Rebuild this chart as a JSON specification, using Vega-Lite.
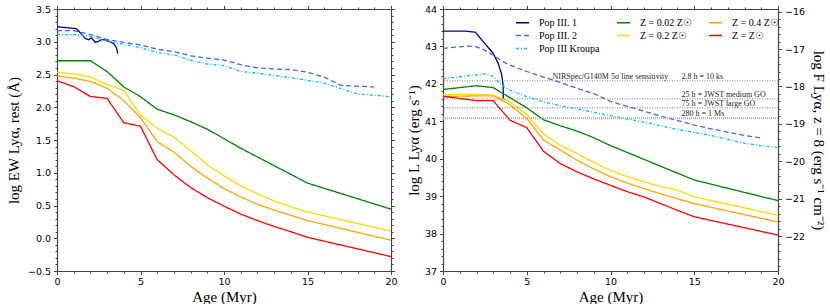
{
  "$schema": "https://vega.github.io/schema/vega-lite/v6.json",
  "padding": {"left": 6, "top": 4, "right": 0, "bottom": 0},
  "background": "white",
  "spacing": 8,
  "config": {
    "view": {"stroke": null},
    "axis": {"grid": false, "domainColor": "#444", "tickColor": "#444", "domainWidth": 1.2, "tickWidth": 1, "labelFont": "DejaVu Sans", "labelFontSize": 9.5, "labelColor": "black", "titleFont": "Liberation Serif", "titleFontSize": 15, "titleFontWeight": "normal", "titleColor": "black", "labelOverlap": false, "labelBound": false, "labelFlush": false},
    "line": {"strokeWidth": 1.3}
  },
  "datasets": {
    "ew": [
      {"s": "Pop III. 1", "t": 0, "v": 3.23}, {"s": "Pop III. 1", "t": 1.16, "v": 3.2}, {"s": "Pop III. 1", "t": 1.4, "v": 3.135}, {"s": "Pop III. 1", "t": 1.7, "v": 3.05}, {"s": "Pop III. 1", "t": 1.9, "v": 3.03}, {"s": "Pop III. 1", "t": 2.06, "v": 3.06}, {"s": "Pop III. 1", "t": 2.3, "v": 2.99}, {"s": "Pop III. 1", "t": 2.5, "v": 3.01}, {"s": "Pop III. 1", "t": 2.7, "v": 3.035}, {"s": "Pop III. 1", "t": 3.1, "v": 3.01}, {"s": "Pop III. 1", "t": 3.4, "v": 2.97}, {"s": "Pop III. 1", "t": 3.56, "v": 2.91}, {"s": "Pop III. 1", "t": 3.64, "v": 2.82},
      {"s": "Z = 0.02 Z☉", "t": 0, "v": 2.71}, {"s": "Z = 0.02 Z☉", "t": 2, "v": 2.71}, {"s": "Z = 0.02 Z☉", "t": 3, "v": 2.545}, {"s": "Z = 0.02 Z☉", "t": 4, "v": 2.31}, {"s": "Z = 0.02 Z☉", "t": 5, "v": 2.16}, {"s": "Z = 0.02 Z☉", "t": 6, "v": 1.97}, {"s": "Z = 0.02 Z☉", "t": 7, "v": 1.885}, {"s": "Z = 0.02 Z☉", "t": 8, "v": 1.78}, {"s": "Z = 0.02 Z☉", "t": 9, "v": 1.665}, {"s": "Z = 0.02 Z☉", "t": 10, "v": 1.52}, {"s": "Z = 0.02 Z☉", "t": 11, "v": 1.375}, {"s": "Z = 0.02 Z☉", "t": 15, "v": 0.842}, {"s": "Z = 0.02 Z☉", "t": 20, "v": 0.444},
      {"s": "Z = 0.4 Z☉", "t": 0, "v": 2.48}, {"s": "Z = 0.4 Z☉", "t": 1, "v": 2.445}, {"s": "Z = 0.4 Z☉", "t": 2, "v": 2.395}, {"s": "Z = 0.4 Z☉", "t": 3, "v": 2.29}, {"s": "Z = 0.4 Z☉", "t": 4, "v": 2.1}, {"s": "Z = 0.4 Z☉", "t": 5, "v": 1.84}, {"s": "Z = 0.4 Z☉", "t": 6, "v": 1.475}, {"s": "Z = 0.4 Z☉", "t": 7, "v": 1.316}, {"s": "Z = 0.4 Z☉", "t": 8, "v": 1.1}, {"s": "Z = 0.4 Z☉", "t": 9, "v": 0.92}, {"s": "Z = 0.4 Z☉", "t": 10, "v": 0.76}, {"s": "Z = 0.4 Z☉", "t": 11, "v": 0.63}, {"s": "Z = 0.4 Z☉", "t": 12, "v": 0.52}, {"s": "Z = 0.4 Z☉", "t": 13, "v": 0.43}, {"s": "Z = 0.4 Z☉", "t": 14, "v": 0.35}, {"s": "Z = 0.4 Z☉", "t": 15, "v": 0.27}, {"s": "Z = 0.4 Z☉", "t": 20, "v": -0.03},
      {"s": "Pop III. 2", "t": 0, "v": 3.17}, {"s": "Pop III. 2", "t": 1, "v": 3.17}, {"s": "Pop III. 2", "t": 2, "v": 3.11}, {"s": "Pop III. 2", "t": 3, "v": 3.035}, {"s": "Pop III. 2", "t": 4, "v": 2.99}, {"s": "Pop III. 2", "t": 5, "v": 2.95}, {"s": "Pop III. 2", "t": 6, "v": 2.885}, {"s": "Pop III. 2", "t": 7, "v": 2.85}, {"s": "Pop III. 2", "t": 8, "v": 2.785}, {"s": "Pop III. 2", "t": 9, "v": 2.75}, {"s": "Pop III. 2", "t": 10, "v": 2.72}, {"s": "Pop III. 2", "t": 11, "v": 2.65}, {"s": "Pop III. 2", "t": 12, "v": 2.6}, {"s": "Pop III. 2", "t": 13, "v": 2.585}, {"s": "Pop III. 2", "t": 14, "v": 2.575}, {"s": "Pop III. 2", "t": 15, "v": 2.535}, {"s": "Pop III. 2", "t": 16, "v": 2.46}, {"s": "Pop III. 2", "t": 17, "v": 2.335}, {"s": "Pop III. 2", "t": 18, "v": 2.32}, {"s": "Pop III. 2", "t": 19, "v": 2.31},
      {"s": "Z = 0.2 Z☉", "t": 0, "v": 2.535}, {"s": "Z = 0.2 Z☉", "t": 1, "v": 2.51}, {"s": "Z = 0.2 Z☉", "t": 2, "v": 2.46}, {"s": "Z = 0.2 Z☉", "t": 3, "v": 2.35}, {"s": "Z = 0.2 Z☉", "t": 4, "v": 2.255}, {"s": "Z = 0.2 Z☉", "t": 5, "v": 1.88}, {"s": "Z = 0.2 Z☉", "t": 6, "v": 1.68}, {"s": "Z = 0.2 Z☉", "t": 7, "v": 1.545}, {"s": "Z = 0.2 Z☉", "t": 8, "v": 1.34}, {"s": "Z = 0.2 Z☉", "t": 9, "v": 1.12}, {"s": "Z = 0.2 Z☉", "t": 10, "v": 0.955}, {"s": "Z = 0.2 Z☉", "t": 11, "v": 0.8}, {"s": "Z = 0.2 Z☉", "t": 12, "v": 0.68}, {"s": "Z = 0.2 Z☉", "t": 13, "v": 0.57}, {"s": "Z = 0.2 Z☉", "t": 14, "v": 0.48}, {"s": "Z = 0.2 Z☉", "t": 15, "v": 0.4}, {"s": "Z = 0.2 Z☉", "t": 20, "v": 0.11},
      {"s": "Z = Z☉", "t": 0, "v": 2.405}, {"s": "Z = Z☉", "t": 1, "v": 2.315}, {"s": "Z = Z☉", "t": 2, "v": 2.165}, {"s": "Z = Z☉", "t": 3, "v": 2.135}, {"s": "Z = Z☉", "t": 4, "v": 1.765}, {"s": "Z = Z☉", "t": 5, "v": 1.71}, {"s": "Z = Z☉", "t": 6, "v": 1.2}, {"s": "Z = Z☉", "t": 7, "v": 0.97}, {"s": "Z = Z☉", "t": 8, "v": 0.775}, {"s": "Z = Z☉", "t": 9, "v": 0.62}, {"s": "Z = Z☉", "t": 10, "v": 0.49}, {"s": "Z = Z☉", "t": 11, "v": 0.37}, {"s": "Z = Z☉", "t": 12, "v": 0.27}, {"s": "Z = Z☉", "t": 13, "v": 0.18}, {"s": "Z = Z☉", "t": 14, "v": 0.1}, {"s": "Z = Z☉", "t": 15, "v": 0.015}, {"s": "Z = Z☉", "t": 20, "v": -0.28},
      {"s": "Pop III Kroupa", "t": 0, "v": 3.11}, {"s": "Pop III Kroupa", "t": 1, "v": 3.11}, {"s": "Pop III Kroupa", "t": 2, "v": 3.085}, {"s": "Pop III Kroupa", "t": 3, "v": 3.01}, {"s": "Pop III Kroupa", "t": 4, "v": 2.96}, {"s": "Pop III Kroupa", "t": 5, "v": 2.91}, {"s": "Pop III Kroupa", "t": 6, "v": 2.835}, {"s": "Pop III Kroupa", "t": 7, "v": 2.8}, {"s": "Pop III Kroupa", "t": 8, "v": 2.72}, {"s": "Pop III Kroupa", "t": 9, "v": 2.66}, {"s": "Pop III Kroupa", "t": 10, "v": 2.635}, {"s": "Pop III Kroupa", "t": 11, "v": 2.545}, {"s": "Pop III Kroupa", "t": 12, "v": 2.52}, {"s": "Pop III Kroupa", "t": 13, "v": 2.485}, {"s": "Pop III Kroupa", "t": 14, "v": 2.45}, {"s": "Pop III Kroupa", "t": 15, "v": 2.41}, {"s": "Pop III Kroupa", "t": 16, "v": 2.37}, {"s": "Pop III Kroupa", "t": 17, "v": 2.285}, {"s": "Pop III Kroupa", "t": 18, "v": 2.2}, {"s": "Pop III Kroupa", "t": 19, "v": 2.185}, {"s": "Pop III Kroupa", "t": 20, "v": 2.16}
    ],
    "lum": [
      {"s": "Pop III. 1", "t": 0, "v": 43.41}, {"s": "Pop III. 1", "t": 1.3, "v": 43.41}, {"s": "Pop III. 1", "t": 1.93, "v": 43.38}, {"s": "Pop III. 1", "t": 2.49, "v": 43.08}, {"s": "Pop III. 1", "t": 2.99, "v": 42.82}, {"s": "Pop III. 1", "t": 3.29, "v": 42.55}, {"s": "Pop III. 1", "t": 3.49, "v": 42.28}, {"s": "Pop III. 1", "t": 3.59, "v": 41.97}, {"s": "Pop III. 1", "t": 3.6, "v": 41.6},
      {"s": "Z = 0.02 Z☉", "t": 0, "v": 41.85}, {"s": "Z = 0.02 Z☉", "t": 1, "v": 41.9}, {"s": "Z = 0.02 Z☉", "t": 2, "v": 41.95}, {"s": "Z = 0.02 Z☉", "t": 3, "v": 41.9}, {"s": "Z = 0.02 Z☉", "t": 4, "v": 41.63}, {"s": "Z = 0.02 Z☉", "t": 5, "v": 41.36}, {"s": "Z = 0.02 Z☉", "t": 6, "v": 41.04}, {"s": "Z = 0.02 Z☉", "t": 7, "v": 40.88}, {"s": "Z = 0.02 Z☉", "t": 8, "v": 40.74}, {"s": "Z = 0.02 Z☉", "t": 9, "v": 40.56}, {"s": "Z = 0.02 Z☉", "t": 10, "v": 40.35}, {"s": "Z = 0.02 Z☉", "t": 15, "v": 39.43}, {"s": "Z = 0.02 Z☉", "t": 20, "v": 38.88},
      {"s": "Z = 0.4 Z☉", "t": 0, "v": 41.66}, {"s": "Z = 0.4 Z☉", "t": 1, "v": 41.67}, {"s": "Z = 0.4 Z☉", "t": 2, "v": 41.68}, {"s": "Z = 0.4 Z☉", "t": 3, "v": 41.68}, {"s": "Z = 0.4 Z☉", "t": 4, "v": 41.44}, {"s": "Z = 0.4 Z☉", "t": 5, "v": 41.08}, {"s": "Z = 0.4 Z☉", "t": 6, "v": 40.5}, {"s": "Z = 0.4 Z☉", "t": 7, "v": 40.23}, {"s": "Z = 0.4 Z☉", "t": 8, "v": 39.96}, {"s": "Z = 0.4 Z☉", "t": 9, "v": 39.73}, {"s": "Z = 0.4 Z☉", "t": 10, "v": 39.52}, {"s": "Z = 0.4 Z☉", "t": 11, "v": 39.35}, {"s": "Z = 0.4 Z☉", "t": 12, "v": 39.2}, {"s": "Z = 0.4 Z☉", "t": 13, "v": 39.06}, {"s": "Z = 0.4 Z☉", "t": 14, "v": 38.93}, {"s": "Z = 0.4 Z☉", "t": 15, "v": 38.8}, {"s": "Z = 0.4 Z☉", "t": 20, "v": 38.31},
      {"s": "Pop III. 2", "t": 0, "v": 42.95}, {"s": "Pop III. 2", "t": 0.7, "v": 42.98}, {"s": "Pop III. 2", "t": 1.5, "v": 43.01}, {"s": "Pop III. 2", "t": 2, "v": 42.99}, {"s": "Pop III. 2", "t": 2.5, "v": 42.9}, {"s": "Pop III. 2", "t": 3, "v": 42.77}, {"s": "Pop III. 2", "t": 3.5, "v": 42.61}, {"s": "Pop III. 2", "t": 4, "v": 42.5}, {"s": "Pop III. 2", "t": 5, "v": 42.33}, {"s": "Pop III. 2", "t": 6, "v": 42.18}, {"s": "Pop III. 2", "t": 7, "v": 42.04}, {"s": "Pop III. 2", "t": 8, "v": 41.88}, {"s": "Pop III. 2", "t": 9, "v": 41.74}, {"s": "Pop III. 2", "t": 10, "v": 41.53}, {"s": "Pop III. 2", "t": 11, "v": 41.4}, {"s": "Pop III. 2", "t": 12, "v": 41.27}, {"s": "Pop III. 2", "t": 13, "v": 41.14}, {"s": "Pop III. 2", "t": 14, "v": 41.02}, {"s": "Pop III. 2", "t": 15, "v": 40.9}, {"s": "Pop III. 2", "t": 16, "v": 40.8}, {"s": "Pop III. 2", "t": 17, "v": 40.71}, {"s": "Pop III. 2", "t": 18, "v": 40.62}, {"s": "Pop III. 2", "t": 19, "v": 40.55},
      {"s": "Z = 0.2 Z☉", "t": 0, "v": 41.71}, {"s": "Z = 0.2 Z☉", "t": 1, "v": 41.72}, {"s": "Z = 0.2 Z☉", "t": 2, "v": 41.72}, {"s": "Z = 0.2 Z☉", "t": 3, "v": 41.7}, {"s": "Z = 0.2 Z☉", "t": 4, "v": 41.52}, {"s": "Z = 0.2 Z☉", "t": 5, "v": 41.18}, {"s": "Z = 0.2 Z☉", "t": 6, "v": 40.66}, {"s": "Z = 0.2 Z☉", "t": 7, "v": 40.36}, {"s": "Z = 0.2 Z☉", "t": 8, "v": 40.14}, {"s": "Z = 0.2 Z☉", "t": 9, "v": 39.9}, {"s": "Z = 0.2 Z☉", "t": 10, "v": 39.69}, {"s": "Z = 0.2 Z☉", "t": 11, "v": 39.52}, {"s": "Z = 0.2 Z☉", "t": 12, "v": 39.38}, {"s": "Z = 0.2 Z☉", "t": 13, "v": 39.26}, {"s": "Z = 0.2 Z☉", "t": 14, "v": 39.16}, {"s": "Z = 0.2 Z☉", "t": 15, "v": 38.98}, {"s": "Z = 0.2 Z☉", "t": 20, "v": 38.49},
      {"s": "Z = Z☉", "t": 0, "v": 41.67}, {"s": "Z = Z☉", "t": 1, "v": 41.61}, {"s": "Z = Z☉", "t": 2, "v": 41.55}, {"s": "Z = Z☉", "t": 3, "v": 41.55}, {"s": "Z = Z☉", "t": 4, "v": 41.03}, {"s": "Z = Z☉", "t": 5, "v": 40.83}, {"s": "Z = Z☉", "t": 6, "v": 40.2}, {"s": "Z = Z☉", "t": 7, "v": 39.87}, {"s": "Z = Z☉", "t": 8, "v": 39.65}, {"s": "Z = Z☉", "t": 9, "v": 39.46}, {"s": "Z = Z☉", "t": 10, "v": 39.29}, {"s": "Z = Z☉", "t": 11, "v": 39.12}, {"s": "Z = Z☉", "t": 12, "v": 38.98}, {"s": "Z = Z☉", "t": 13, "v": 38.8}, {"s": "Z = Z☉", "t": 14, "v": 38.62}, {"s": "Z = Z☉", "t": 15, "v": 38.45}, {"s": "Z = Z☉", "t": 20, "v": 37.96},
      {"s": "Pop III Kroupa", "t": 0, "v": 42.14}, {"s": "Pop III Kroupa", "t": 1, "v": 42.19}, {"s": "Pop III Kroupa", "t": 2, "v": 42.24}, {"s": "Pop III Kroupa", "t": 2.6, "v": 42.27}, {"s": "Pop III Kroupa", "t": 3, "v": 42.2}, {"s": "Pop III Kroupa", "t": 3.5, "v": 41.97}, {"s": "Pop III Kroupa", "t": 4, "v": 41.83}, {"s": "Pop III Kroupa", "t": 5, "v": 41.66}, {"s": "Pop III Kroupa", "t": 6, "v": 41.52}, {"s": "Pop III Kroupa", "t": 7, "v": 41.42}, {"s": "Pop III Kroupa", "t": 8, "v": 41.33}, {"s": "Pop III Kroupa", "t": 9, "v": 41.24}, {"s": "Pop III Kroupa", "t": 10, "v": 41.15}, {"s": "Pop III Kroupa", "t": 11, "v": 41.06}, {"s": "Pop III Kroupa", "t": 12, "v": 40.98}, {"s": "Pop III Kroupa", "t": 13, "v": 40.88}, {"s": "Pop III Kroupa", "t": 14, "v": 40.78}, {"s": "Pop III Kroupa", "t": 15, "v": 40.7}, {"s": "Pop III Kroupa", "t": 16, "v": 40.62}, {"s": "Pop III Kroupa", "t": 17, "v": 40.52}, {"s": "Pop III Kroupa", "t": 18, "v": 40.41}, {"s": "Pop III Kroupa", "t": 19, "v": 40.35}, {"s": "Pop III Kroupa", "t": 20, "v": 40.3}
    ],
    "sens": [
      {"L": 42.08, "left": "NIRSpec/G140M 5σ line sensitivity", "right": "2.8 h = 10 ks", "kind": "dark"},
      {"L": 41.6, "left": "", "right": "25 h = JWST medium GO", "kind": "dark"},
      {"L": 41.36, "left": "", "right": "75 h = JWST large GO", "kind": "dark"},
      {"L": 41.08, "left": "", "right": "280 h = 1 Ms", "kind": "light"}
    ]
  },
  "resolve": {"scale": {"color": "independent", "strokeDash": "independent"}, "legend": {"color": "independent", "strokeDash": "independent"}},
  "hconcat": [
    {
      "width": 334,
      "height": 262,
      "layer": [
        {
          "data": {"name": "ew"},
          "mark": {"type": "line", "strokeWidth": 1.3},
          "encoding": {
            "x": {"field": "t", "type": "quantitative", "scale": {"domain": [0, 20], "nice": false, "zero": false},
              "axis": {"orient": "bottom", "values": [0,1,2,3,4,5,6,7,8,9,10,11,12,13,14,15,16,17,18,19,20], "labelExpr": "datum.value % 5 === 0 ? datum.label : ''", "tickSize": {"condition": {"test": "datum.value % 5 === 0", "value": 3.5}, "value": 2}, "labelPadding": 2, "labelOverlap": false, "title": "Age (Myr)", "titlePadding": 3}},
            "y": {"field": "v", "type": "quantitative", "scale": {"domain": [-0.5, 3.5], "nice": false, "zero": false},
              "axis": {"orient": "left", "values": [-0.5,-0.4,-0.3,-0.2,-0.1,0,0.1,0.2,0.3,0.4,0.5,0.6,0.7,0.8,0.9,1,1.1,1.2,1.3,1.4,1.5,1.6,1.7,1.8,1.9,2,2.1,2.2,2.3,2.4,2.5,2.6,2.7,2.8,2.9,3,3.1,3.2,3.3,3.4,3.5], "format": ".1f", "labelExpr": "abs(datum.value*2 - round(datum.value*2)) < 0.001 ? datum.label : ''", "tickSize": {"condition": {"test": "abs(datum.value*2 - round(datum.value*2)) < 0.001", "value": 3.5}, "value": 2}, "labelPadding": 3, "labelOverlap": false, "title": "log EW Lyα, rest (Å)", "titlePadding": 6}},
            "color": {"field": "s", "type": "nominal", "legend": null,
              "scale": {"domain": ["Pop III. 1", "Z = 0.02 Z☉", "Z = 0.4 Z☉", "Pop III. 2", "Z = 0.2 Z☉", "Z = Z☉", "Pop III Kroupa"], "range": ["#00008b", "#008000", "#ffa500", "#4169e1", "#ffd700", "#ff0000", "#00bfff"]}},
            "strokeDash": {"field": "s", "type": "nominal", "legend": null,
              "scale": {"domain": ["Pop III. 1", "Z = 0.02 Z☉", "Z = 0.4 Z☉", "Pop III. 2", "Z = 0.2 Z☉", "Z = Z☉", "Pop III Kroupa"], "range": [[1,0],[1,0],[1,0],[5,3],[1,0],[1,0],[3,2,1,2]]}}
          }
        },
        {
          "data": {"values": [{}]},
          "mark": {"type": "point", "opacity": 0},
          "encoding": {
            "x": {"datum": 0, "type": "quantitative",
              "axis": {"orient": "top", "values": [0,1,2,3,4,5,6,7,8,9,10,11,12,13,14,15,16,17,18,19,20], "labels": false, "title": null, "tickSize": {"condition": {"test": "datum.value % 5 === 0", "value": 3.5}, "value": 2}}},
            "y": {"datum": 0, "type": "quantitative",
              "axis": {"orient": "right", "values": [-0.5,-0.4,-0.3,-0.2,-0.1,0,0.1,0.2,0.3,0.4,0.5,0.6,0.7,0.8,0.9,1,1.1,1.2,1.3,1.4,1.5,1.6,1.7,1.8,1.9,2,2.1,2.2,2.3,2.4,2.5,2.6,2.7,2.8,2.9,3,3.1,3.2,3.3,3.4,3.5], "labels": false, "title": null, "tickSize": {"condition": {"test": "abs(datum.value*2 - round(datum.value*2)) < 0.001", "value": 3.5}, "value": 2}}}
          }
        }
      ],
      "resolve": {"axis": {"x": "independent", "y": "independent"}}
    },
    {
      "width": 335,
      "height": 262,
      "layer": [
        {
          "layer": [
            {
              "data": {"name": "lum"},
              "mark": {"type": "line", "strokeWidth": 1.3},
              "encoding": {
                "x": {"field": "t", "type": "quantitative", "scale": {"domain": [0, 20], "nice": false, "zero": false},
                  "axis": {"orient": "bottom", "values": [0,1,2,3,4,5,6,7,8,9,10,11,12,13,14,15,16,17,18,19,20], "labelExpr": "datum.value % 5 === 0 ? datum.label : ''", "tickSize": {"condition": {"test": "datum.value % 5 === 0", "value": 3.5}, "value": 2}, "labelPadding": 2, "labelOverlap": false, "title": "Age (Myr)", "titlePadding": 3}},
                "y": {"field": "v", "type": "quantitative", "scale": {"domain": [37, 44], "nice": false, "zero": false},
                  "axis": {"orient": "left", "values": [37,37.2,37.4,37.6,37.8,38,38.2,38.4,38.6,38.8,39,39.2,39.4,39.6,39.8,40,40.2,40.4,40.6,40.8,41,41.2,41.4,41.6,41.8,42,42.2,42.4,42.6,42.8,43,43.2,43.4,43.6,43.8,44], "format": ".1f", "labelExpr": "abs(datum.value - round(datum.value)) < 0.001 ? format(datum.value, 'd') : ''", "tickSize": {"condition": {"test": "abs(datum.value - round(datum.value)) < 0.001", "value": 3.5}, "value": 2}, "labelPadding": 3, "labelOverlap": false, "title": "log L Lyα (erg s⁻¹)", "titlePadding": 3}},
                "color": {"field": "s", "type": "nominal",
                  "scale": {"domain": ["Pop III. 1", "Z = 0.02 Z☉", "Z = 0.4 Z☉", "Pop III. 2", "Z = 0.2 Z☉", "Z = Z☉", "Pop III Kroupa"], "range": ["#00008b", "#008000", "#ffa500", "#4169e1", "#ffd700", "#ff0000", "#00bfff"]},
                  "legend": {"values": ["Pop III. 1", "Z = 0.02 Z☉", "Z = 0.4 Z☉", "Pop III. 2", "Z = 0.2 Z☉", "Z = Z☉", "Pop III Kroupa"], "orient": "none", "direction": "horizontal", "legendX": 72, "legendY": 6, "columns": 3, "symbolType": "stroke", "symbolSize": 169, "symbolStrokeWidth": 1.5, "labelFont": "Liberation Serif", "labelFontSize": 10, "labelColor": "black", "rowPadding": 0, "columnPadding": 14, "labelOffset": 9, "title": null, "padding": 0,
                    "encode": {"symbols": {"update": {"strokeDash": {"signal": "datum.value === 'Pop III. 2' ? [5, 3] : datum.value === 'Pop III Kroupa' ? [3, 2, 1, 2] : [1, 0]"}}}}}},
                "strokeDash": {"field": "s", "type": "nominal", "legend": null,
                  "scale": {"domain": ["Pop III. 1", "Z = 0.02 Z☉", "Z = 0.4 Z☉", "Pop III. 2", "Z = 0.2 Z☉", "Z = Z☉", "Pop III Kroupa"], "range": [[1,0],[1,0],[1,0],[5,3],[1,0],[1,0],[3,2,1,2]]}}
              }
            },
            {
              "data": {"name": "sens"},
              "transform": [{"filter": "datum.kind === 'dark'"}],
              "mark": {"type": "rule", "stroke": "#555", "strokeWidth": 0.8, "strokeDash": [1, 1.5]},
              "encoding": {"y": {"field": "L", "type": "quantitative",
                "axis": {"orient": "left", "values": [37,37.2,37.4,37.6,37.8,38,38.2,38.4,38.6,38.8,39,39.2,39.4,39.6,39.8,40,40.2,40.4,40.6,40.8,41,41.2,41.4,41.6,41.8,42,42.2,42.4,42.6,42.8,43,43.2,43.4,43.6,43.8,44], "format": ".1f", "labelExpr": "abs(datum.value - round(datum.value)) < 0.001 ? format(datum.value, 'd') : ''", "tickSize": {"condition": {"test": "abs(datum.value - round(datum.value)) < 0.001", "value": 3.5}, "value": 2}, "labelPadding": 3, "labelOverlap": false, "title": "log L Lyα (erg s⁻¹)", "titlePadding": 3}}}
            },
            {
              "data": {"name": "sens"},
              "transform": [{"filter": "datum.kind === 'light'"}],
              "mark": {"type": "rule", "stroke": "#aaa", "strokeWidth": 2, "strokeDash": [1, 1]},
              "encoding": {"y": {"field": "L", "type": "quantitative",
                "axis": {"orient": "left", "values": [37,37.2,37.4,37.6,37.8,38,38.2,38.4,38.6,38.8,39,39.2,39.4,39.6,39.8,40,40.2,40.4,40.6,40.8,41,41.2,41.4,41.6,41.8,42,42.2,42.4,42.6,42.8,43,43.2,43.4,43.6,43.8,44], "format": ".1f", "labelExpr": "abs(datum.value - round(datum.value)) < 0.001 ? format(datum.value, 'd') : ''", "tickSize": {"condition": {"test": "abs(datum.value - round(datum.value)) < 0.001", "value": 3.5}, "value": 2}, "labelPadding": 3, "labelOverlap": false, "title": "log L Lyα (erg s⁻¹)", "titlePadding": 3}}}
            },
            {
              "data": {"name": "sens"},
              "mark": {"type": "text", "align": "left", "baseline": "alphabetic", "dy": -2, "font": "Liberation Serif", "fontSize": 8, "color": "#222"},
              "encoding": {
                "x": {"datum": 14.24, "type": "quantitative",
                  "axis": {"orient": "bottom", "values": [0,1,2,3,4,5,6,7,8,9,10,11,12,13,14,15,16,17,18,19,20], "labelExpr": "datum.value % 5 === 0 ? datum.label : ''", "tickSize": {"condition": {"test": "datum.value % 5 === 0", "value": 3.5}, "value": 2}, "labelPadding": 2, "labelOverlap": false, "title": "Age (Myr)", "titlePadding": 3}},
                "y": {"field": "L", "type": "quantitative",
                  "axis": {"orient": "left", "values": [37,37.2,37.4,37.6,37.8,38,38.2,38.4,38.6,38.8,39,39.2,39.4,39.6,39.8,40,40.2,40.4,40.6,40.8,41,41.2,41.4,41.6,41.8,42,42.2,42.4,42.6,42.8,43,43.2,43.4,43.6,43.8,44], "format": ".1f", "labelExpr": "abs(datum.value - round(datum.value)) < 0.001 ? format(datum.value, 'd') : ''", "tickSize": {"condition": {"test": "abs(datum.value - round(datum.value)) < 0.001", "value": 3.5}, "value": 2}, "labelPadding": 3, "labelOverlap": false, "title": "log L Lyα (erg s⁻¹)", "titlePadding": 3}},
                "text": {"field": "right"}}
            },
            {
              "data": {"name": "sens"},
              "transform": [{"filter": "datum.left !== ''"}],
              "mark": {"type": "text", "align": "left", "baseline": "alphabetic", "dy": -2, "font": "Liberation Serif", "fontSize": 8, "color": "#222"},
              "encoding": {
                "x": {"datum": 6.54, "type": "quantitative",
                  "axis": {"orient": "bottom", "values": [0,1,2,3,4,5,6,7,8,9,10,11,12,13,14,15,16,17,18,19,20], "labelExpr": "datum.value % 5 === 0 ? datum.label : ''", "tickSize": {"condition": {"test": "datum.value % 5 === 0", "value": 3.5}, "value": 2}, "labelPadding": 2, "labelOverlap": false, "title": "Age (Myr)", "titlePadding": 3}},
                "y": {"field": "L", "type": "quantitative",
                  "axis": {"orient": "left", "values": [37,37.2,37.4,37.6,37.8,38,38.2,38.4,38.6,38.8,39,39.2,39.4,39.6,39.8,40,40.2,40.4,40.6,40.8,41,41.2,41.4,41.6,41.8,42,42.2,42.4,42.6,42.8,43,43.2,43.4,43.6,43.8,44], "format": ".1f", "labelExpr": "abs(datum.value - round(datum.value)) < 0.001 ? format(datum.value, 'd') : ''", "tickSize": {"condition": {"test": "abs(datum.value - round(datum.value)) < 0.001", "value": 3.5}, "value": 2}, "labelPadding": 3, "labelOverlap": false, "title": "log L Lyα (erg s⁻¹)", "titlePadding": 3}},
                "text": {"field": "left"}}
            }
          ]
        },
        {
          "data": {"values": [{}]},
          "mark": {"type": "point", "opacity": 0},
          "encoding": {
            "x": {"datum": 0, "type": "quantitative",
              "axis": {"orient": "top", "values": [0,1,2,3,4,5,6,7,8,9,10,11,12,13,14,15,16,17,18,19,20], "labels": false, "title": null, "tickSize": {"condition": {"test": "datum.value % 5 === 0", "value": 3.5}, "value": 2}}},
            "y": {"datum": -19, "type": "quantitative", "scale": {"domain": [-22.93, -15.93], "nice": false, "zero": false},
              "axis": {"orient": "right", "values": [-22.8,-22.6,-22.4,-22.2,-22,-21.8,-21.6,-21.4,-21.2,-21,-20.8,-20.6,-20.4,-20.2,-20,-19.8,-19.6,-19.4,-19.2,-19,-18.8,-18.6,-18.4,-18.2,-18,-17.8,-17.6,-17.4,-17.2,-17,-16.8,-16.6,-16.4,-16.2,-16], "format": ".1f", "labelExpr": "abs(datum.value - round(datum.value)) < 0.001 ? format(datum.value, 'd') : ''", "tickSize": {"condition": {"test": "abs(datum.value - round(datum.value)) < 0.001", "value": 3.5}, "value": 2}, "labelPadding": 3, "labelOverlap": false, "title": "log F Lyα, z = 8 (erg s⁻¹ cm⁻²)", "titlePadding": 6}}
          }
        }
      ],
      "resolve": {"scale": {"y": "independent"}, "axis": {"x": "independent", "y": "independent"}}
    }
  ]
}
